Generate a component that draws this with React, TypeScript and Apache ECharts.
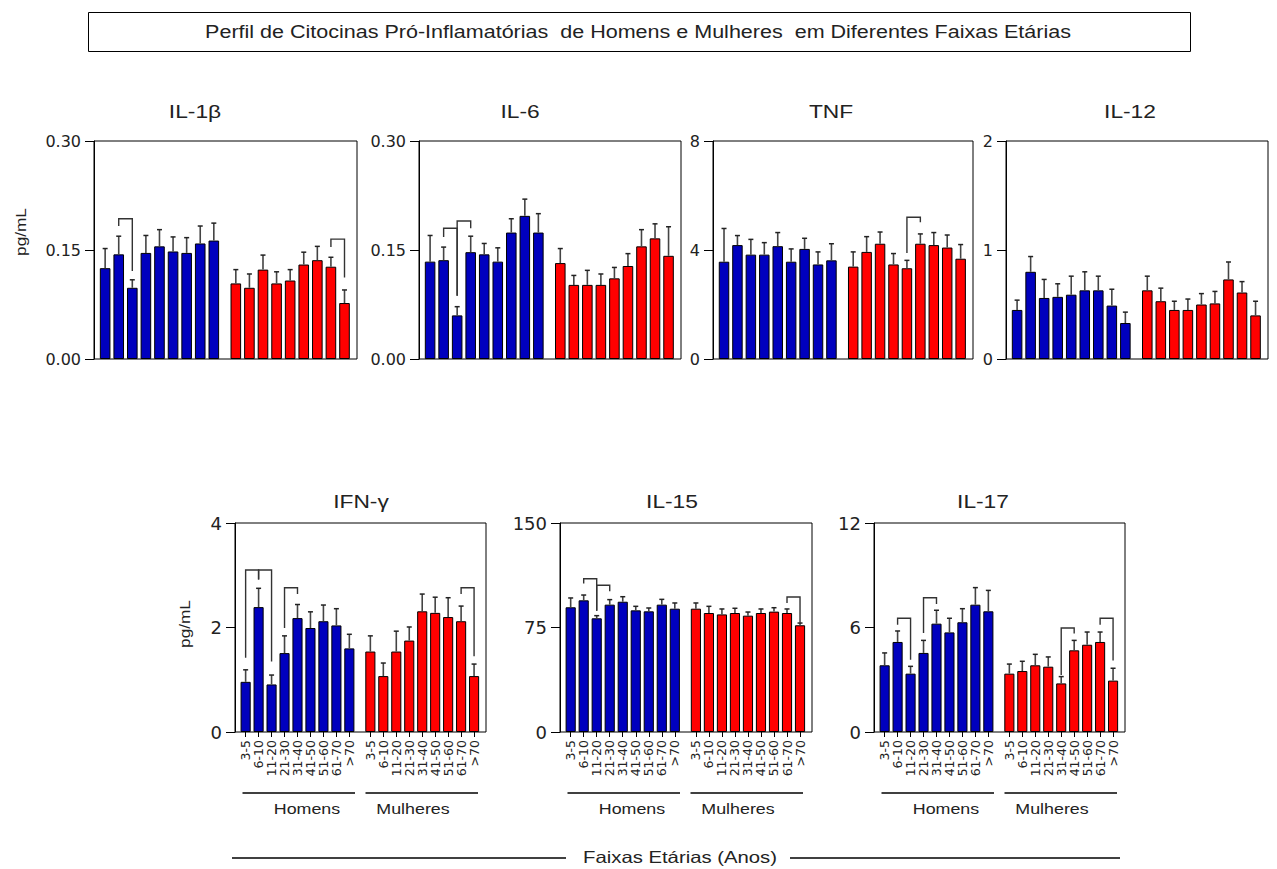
import React, { useEffect, useRef } from "react";
import * as echarts from "echarts";

// ---------- DATA ----------
const ageGroups = ["3-5", "6-10", "11-20", "21-30", "31-40", "41-50", "51-60", "61-70", ">70"];
const panelTitles = ["IL-1β", "IL-6", "TNF", "IL-12", "IFN-γ", "IL-15", "IL-17"];
const groupLabels = ["Homens", "Mulheres"];
const mainTitle = "Perfil de Citocinas Pró-Inflamatórias  de Homens e Mulheres  em Diferentes Faixas Etárias";
const xCaption = "Faixas Etárias (Anos)";
const yUnit = "pg/mL";

// y-axis scales: [max, interval, decimals]
const yScales: [number, number, number][] = [
  [0.3, 0.15, 2],
  [0.3, 0.15, 2],
  [8, 4, 0],
  [2, 1, 0],
  [4, 2, 0],
  [150, 75, 0],
  [12, 6, 0],
];

const il1bMen = [0.125, 0.144, 0.098, 0.146, 0.155, 0.148, 0.146, 0.159, 0.163];
const il1bMenSem = [0.027, 0.025, 0.011, 0.024, 0.023, 0.020, 0.021, 0.024, 0.024];
const il1bWomen = [0.104, 0.098, 0.123, 0.104, 0.108, 0.130, 0.136, 0.127, 0.077];
const il1bWomenSem = [0.019, 0.019, 0.020, 0.016, 0.015, 0.017, 0.019, 0.013, 0.018];

const il6Men = [0.134, 0.136, 0.060, 0.147, 0.144, 0.134, 0.174, 0.197, 0.174];
const il6MenSem = [0.036, 0.018, 0.012, 0.022, 0.015, 0.019, 0.019, 0.023, 0.026];
const il6Women = [0.132, 0.102, 0.102, 0.102, 0.111, 0.128, 0.155, 0.166, 0.142];
const il6WomenSem = [0.020, 0.013, 0.020, 0.015, 0.015, 0.017, 0.023, 0.020, 0.040];

const tnfMen = [3.57, 4.18, 3.83, 3.83, 4.14, 3.57, 4.04, 3.47, 3.62];
const tnfMenSem = [1.22, 0.35, 0.56, 0.44, 0.50, 0.47, 0.39, 0.46, 0.61];
const tnfWomen = [3.39, 3.93, 4.23, 3.47, 3.33, 4.23, 4.18, 4.09, 3.68];
const tnfWomenSem = [0.54, 0.56, 0.43, 0.40, 0.29, 0.36, 0.46, 0.46, 0.52];

const il12Men = [0.45, 0.80, 0.56, 0.57, 0.59, 0.63, 0.63, 0.49, 0.33];
const il12MenSem = [0.09, 0.14, 0.17, 0.12, 0.17, 0.17, 0.13, 0.15, 0.10];
const il12Women = [0.63, 0.53, 0.45, 0.45, 0.50, 0.51, 0.73, 0.61, 0.40];
const il12WomenSem = [0.13, 0.12, 0.08, 0.10, 0.10, 0.11, 0.16, 0.10, 0.13];

const ifnMen = [0.96, 2.39, 0.91, 1.51, 2.18, 1.99, 2.12, 2.04, 1.60];
const ifnMenSem = [0.23, 0.36, 0.18, 0.33, 0.26, 0.31, 0.31, 0.32, 0.27];
const ifnWomen = [1.54, 1.07, 1.54, 1.75, 2.31, 2.28, 2.20, 2.12, 1.07];
const ifnWomenSem = [0.30, 0.25, 0.39, 0.26, 0.33, 0.30, 0.37, 0.29, 0.23];

const il15Men = [89.5, 94.5, 81.6, 91.4, 93.5, 87.3, 86.6, 91.4, 88.5];
const il15MenSem = [6.7, 3.8, 1.9, 3.6, 3.6, 2.9, 2.4, 3.8, 4.1];
const il15Women = [88.5, 85.4, 84.4, 85.4, 83.5, 85.4, 86.4, 85.4, 76.6];
const il15WomenSem = [4.1, 4.8, 3.9, 3.4, 2.6, 2.9, 2.8, 2.9, 1.6];

const il17Men = [3.83, 5.17, 3.35, 4.54, 6.22, 5.72, 6.30, 7.31, 6.93];
const il17MenSem = [0.71, 0.63, 0.42, 0.72, 0.77, 0.81, 0.78, 0.98, 1.20];
const il17Women = [3.35, 3.50, 3.83, 3.75, 2.79, 4.69, 5.01, 5.17, 2.95];
const il17WomenSem = [0.55, 0.56, 0.63, 0.56, 0.39, 0.57, 0.73, 0.57, 0.71];

// significance brackets: [group 0=Homens 1=Mulheres, fromIdx, toIdx, topValue, leftLegEnd, rightLegEnd]
const il1bBrackets = [[0, 1, 2, 0.193, 0.183, 0.121], [1, 7, 8, 0.165, 0.154, 0.112]];
const il6Brackets = [[0, 1, 2, 0.180, 0.168, 0.087], [0, 2, 3, 0.190, 0.087, 0.180]];
const tnfBrackets = [[1, 4, 5, 5.20, 3.89, 5.02]];
const il12Brackets: number[][] = [];
const ifnBrackets = [[0, 0, 1, 3.10, 1.42, 2.92], [0, 1, 2, 3.10, 2.92, 1.35], [0, 3, 4, 2.76, 1.99, 2.64], [1, 7, 8, 2.76, 2.64, 1.45]];
const il15Brackets = [[0, 1, 2, 110, 106.5, 87.1], [0, 2, 3, 105.3, 87.1, 101], [1, 7, 8, 96.9, 92.6, 77.8]];
const il17Brackets = [[0, 1, 2, 6.53, 6.16, 4.15], [0, 3, 4, 7.71, 5.68, 7.35], [1, 4, 5, 5.97, 3.27, 5.65], [1, 7, 8, 6.53, 6.16, 4.11]];

const panelData = [
  { men: il1bMen, menSem: il1bMenSem, women: il1bWomen, womenSem: il1bWomenSem, brackets: il1bBrackets },
  { men: il6Men, menSem: il6MenSem, women: il6Women, womenSem: il6WomenSem, brackets: il6Brackets },
  { men: tnfMen, menSem: tnfMenSem, women: tnfWomen, womenSem: tnfWomenSem, brackets: tnfBrackets },
  { men: il12Men, menSem: il12MenSem, women: il12Women, womenSem: il12WomenSem, brackets: il12Brackets },
  { men: ifnMen, menSem: ifnMenSem, women: ifnWomen, womenSem: ifnWomenSem, brackets: ifnBrackets },
  { men: il15Men, menSem: il15MenSem, women: il15Women, womenSem: il15WomenSem, brackets: il15Brackets },
  { men: il17Men, menSem: il17MenSem, women: il17Women, womenSem: il17WomenSem, brackets: il17Brackets },
];

// ---------- LAYOUT ----------
const FONT = "'Liberation Sans', Arial, sans-serif";
const AXFONT = "'DejaVu Sans', 'Liberation Sans', sans-serif";
const TEXT = "#222";
const BLUE = "#0000BE";
const RED = "#FF0000";
const STRETCH = 1.23;

const boxes = [
  { L: 94, T: 141, W: 263, H: 218, tx: 195, ty: 111, bottom: false },
  { L: 419, T: 141, W: 262, H: 218, tx: 520, ty: 111, bottom: false },
  { L: 713, T: 141, W: 260, H: 218, tx: 831, ty: 111, bottom: false },
  { L: 1006, T: 141, W: 262, H: 218, tx: 1130, ty: 111, bottom: false },
  { L: 235, T: 523, W: 251, H: 209, tx: 361, ty: 501, bottom: true },
  { L: 560, T: 523, W: 252, H: 209, tx: 672, ty: 501, bottom: true },
  { L: 874, T: 523, W: 251, H: 209, tx: 983, ty: 501, bottom: true },
];

function stretchedText(x: number, y: number, text: string, size: number, extra: any = {}) {
  return {
    type: "text", x, y, scaleX: STRETCH, ...extra,
    style: { text, fill: TEXT, font: `${size}px ${FONT}`, align: "center", verticalAlign: "middle" },
  };
}

function buildOption() {
  const grid: any[] = [];
  const xAxis: any[] = [];
  const yAxis: any[] = [];
  const series: any[] = [];
  const graphic: any[] = [];

  boxes.forEach((b, k) => {
    const [ymax, interval, dec] = yScales[k];
    const p = b.W / 19.36;
    const d = panelData[k];
    const base = grid.length;
    grid.push({ left: b.L, top: b.T, width: b.W, height: b.H, show: true, borderColor: "#000", borderWidth: 1, backgroundColor: "transparent" });
    xAxis.push({ gridIndex: base, type: "value", min: 0, max: 1, show: false });
    yAxis.push({
      gridIndex: base, type: "value", min: 0, max: ymax, interval,
      axisLine: { show: true, lineStyle: { color: "#000", width: 1 } },
      axisTick: { show: true, length: 9, lineStyle: { color: "#000" } },
      axisLabel: { show: true, margin: 13, color: TEXT, fontSize: b.bottom ? 18 : 16, fontFamily: AXFONT, formatter: (v: number) => v.toFixed(dec) },
      splitLine: { show: false },
    });
    const groupLefts = [b.L + 0.32 * p, b.L + 9.94 * p];
    const groupVals = [[d.men, d.menSem], [d.women, d.womenSem]];
    [0, 1].forEach((g) => {
      const gi = grid.length;
      grid.push({ left: groupLefts[g], top: b.T, width: 9 * p, height: b.H, show: false });
      xAxis.push({
        gridIndex: gi, type: "category", data: ageGroups, boundaryGap: true,
        axisLine: { show: false },
        axisTick: { show: b.bottom, alignWithLabel: true, length: 5, lineStyle: { color: "#000" } },
        axisLabel: { show: b.bottom, rotate: 90, interval: 0, margin: 8, fontSize: 12.5, color: TEXT, fontFamily: AXFONT },
      });
      yAxis.push({ gridIndex: gi, type: "value", min: 0, max: ymax, show: false, splitLine: { show: false } });
      const vals = groupVals[g][0];
      const sems = groupVals[g][1];
      series.push({
        type: "bar", xAxisIndex: gi, yAxisIndex: gi, data: vals, barCategoryGap: "22%",
        itemStyle: { color: g === 0 ? BLUE : RED, borderColor: "#000", borderWidth: 1 },
        z: 2,
      });
      series.push({
        type: "custom", xAxisIndex: gi, yAxisIndex: gi, z: 3,
        data: vals.map((v: number, i: number) => [i, v, v + sems[i]]),
        encode: { x: 0, y: [1, 2] },
        renderItem: (_params: any, api: any) => {
          const x = api.value(0);
          const p0 = api.coord([x, api.value(1)]);
          const p1 = api.coord([x, api.value(2)]);
          return {
            type: "group",
            children: [
              { type: "line", shape: { x1: p0[0], y1: p0[1], x2: p1[0], y2: p1[1] }, style: { stroke: "#444", lineWidth: 1.6 } },
              { type: "line", shape: { x1: p1[0] - 2.5, y1: p1[1], x2: p1[0] + 2.5, y2: p1[1] }, style: { stroke: "#222", lineWidth: 1.5 } },
            ],
          };
        },
      });
      const br = d.brackets.filter((r: number[]) => r[0] === g).map((r: number[]) => r.slice(1));
      if (br.length) {
        series.push({
          type: "custom", xAxisIndex: gi, yAxisIndex: gi, z: 4,
          data: br,
          encode: { x: [0, 1], y: [2, 3, 4] },
          renderItem: (_params: any, api: any) => {
            const a = api.value(0), c = api.value(1);
            const pl = api.coord([a, api.value(3)]);
            const pt1 = api.coord([a, api.value(2)]);
            const pt2 = api.coord([c, api.value(2)]);
            const pr = api.coord([c, api.value(4)]);
            return {
              type: "polyline",
              shape: { points: [pl, pt1, pt2, pr] },
              style: { stroke: "#333", lineWidth: 1.4, fill: null },
            };
          },
        });
      }
    });

    graphic.push(stretchedText(b.tx, b.ty, panelTitles[k], 18.5));

    if (b.bottom) {
      const ly = 793;
      graphic.push({ type: "line", shape: { x1: b.L + 7.5, y1: ly, x2: b.L + 120, y2: ly }, style: { stroke: "#000", lineWidth: 1.3 } });
      graphic.push({ type: "line", shape: { x1: b.L + 130.5, y1: ly, x2: b.L + 243, y2: ly }, style: { stroke: "#000", lineWidth: 1.3 } });
      graphic.push(stretchedText(b.L + 72, 809, groupLabels[0], 14.5));
      graphic.push(stretchedText(b.L + 178, 809, groupLabels[1], 14.5));
    }
  });

  graphic.push(stretchedText(21, 232, yUnit, 14, { rotation: Math.PI / 2 }));
  graphic.push(stretchedText(185, 624, yUnit, 14, { rotation: Math.PI / 2 }));

  graphic.push({ type: "rect", shape: { x: 88.5, y: 12.5, width: 1102, height: 39 }, style: { fill: "#fff", stroke: "#000", lineWidth: 1 }, z: -1 });
  graphic.push(stretchedText(638, 32, mainTitle, 17.5));

  graphic.push({ type: "line", shape: { x1: 232, y1: 858, x2: 566, y2: 858 }, style: { stroke: "#000", lineWidth: 1.3 } });
  graphic.push({ type: "line", shape: { x1: 790, y1: 858, x2: 1120, y2: 858 }, style: { stroke: "#000", lineWidth: 1.3 } });
  graphic.push(stretchedText(680, 857, xCaption, 16.5));

  return { animation: false, backgroundColor: "#fff", grid, xAxis, yAxis, series, graphic };
}

export default function App() {
  const ref = useRef<HTMLDivElement>(null);
  useEffect(() => {
    if (!ref.current) return;
    const chart = echarts.init(ref.current, undefined, { renderer: "svg" });
    chart.setOption(buildOption() as any);
    return () => chart.dispose();
  }, []);
  return <div ref={ref} style={{ position: "fixed", left: 0, top: 0, width: 1277, height: 869, background: "#fff" }} />;
}
